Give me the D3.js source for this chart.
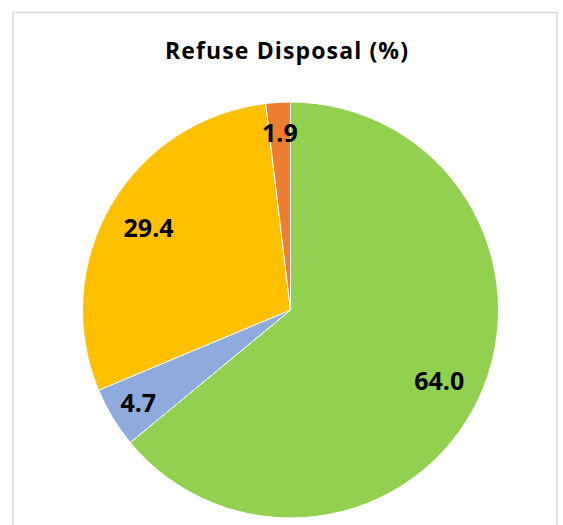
<!DOCTYPE html>
<html>
<head>
<meta charset="utf-8">
<script src="https://cdn.jsdelivr.net/npm/d3@7"></script>
<style>
  html, body { margin: 0; padding: 0; background: #fff; }
  svg { display: block; }
</style>
</head>
<body>
<svg id="chart" width="563" height="525"></svg>
<script>
// Refuse disposal shares, clockwise from 12 o'clock
const categories = ["Collected", "Own refuse dump", "Communal dump", "Other"];
const values = [64.0, 4.7, 29.4, 1.9];
const colors = ["#92D050", "#8FAADC", "#FFC000", "#ED7D31"];
const title = "Refuse Disposal (%)";

const svg = d3.select("#chart");
const font = "'Open Sans', 'Lato', sans-serif";

// chart frame
svg.append("rect")
  .attr("x", 13).attr("y", 12.5)
  .attr("width", 544).attr("height", 530)
  .attr("fill", "#fff")
  .attr("stroke", "#d9d9d9").attr("stroke-width", 1.5);

svg.append("text")
  .attr("x", 286.5).attr("y", 59)
  .attr("text-anchor", "middle")
  .attr("font-family", font)
  .attr("font-weight", 700)
  .attr("font-size", 23)
  .attr("textLength", 243)
  .attr("lengthAdjust", "spacing")
  .attr("fill", "#000")
  .text(title);

const cx = 290.5, cy = 310, r = 208;
const data = categories.map((c, i) => ({ name: c, value: values[i], color: colors[i] }));

const pie = d3.pie().value(d => d.value).sort(null);
const arc = d3.arc().innerRadius(0).outerRadius(r);

const g = svg.append("g").attr("transform", `translate(${cx},${cy})`);
const arcs = pie(data);

g.selectAll("path.slice")
  .data(arcs)
  .join("path")
  .attr("class", "slice")
  .attr("d", arc)
  .attr("fill", d => d.data.color)
  .attr("stroke", "#fff")
  .attr("stroke-width", 1);

// value labels, small slices pushed closer to the rim
g.selectAll("text.label")
  .data(arcs)
  .join("text")
  .attr("class", "label")
  .attr("transform", d => {
    const lr = d.data.value < 5 ? r * 0.855 : r * 0.79;
    const c = d3.arc().innerRadius(lr).outerRadius(lr).centroid(d);
    return `translate(${c[0]},${c[1]})`;
  })
  .attr("text-anchor", "middle")
  .attr("dominant-baseline", "central")
  .attr("font-family", font)
  .attr("font-weight", 700)
  .attr("font-size", 25)
  .attr("fill", "#000")
  .text(d => d3.format(".1f")(d.data.value));
</script>
</body>
</html>
